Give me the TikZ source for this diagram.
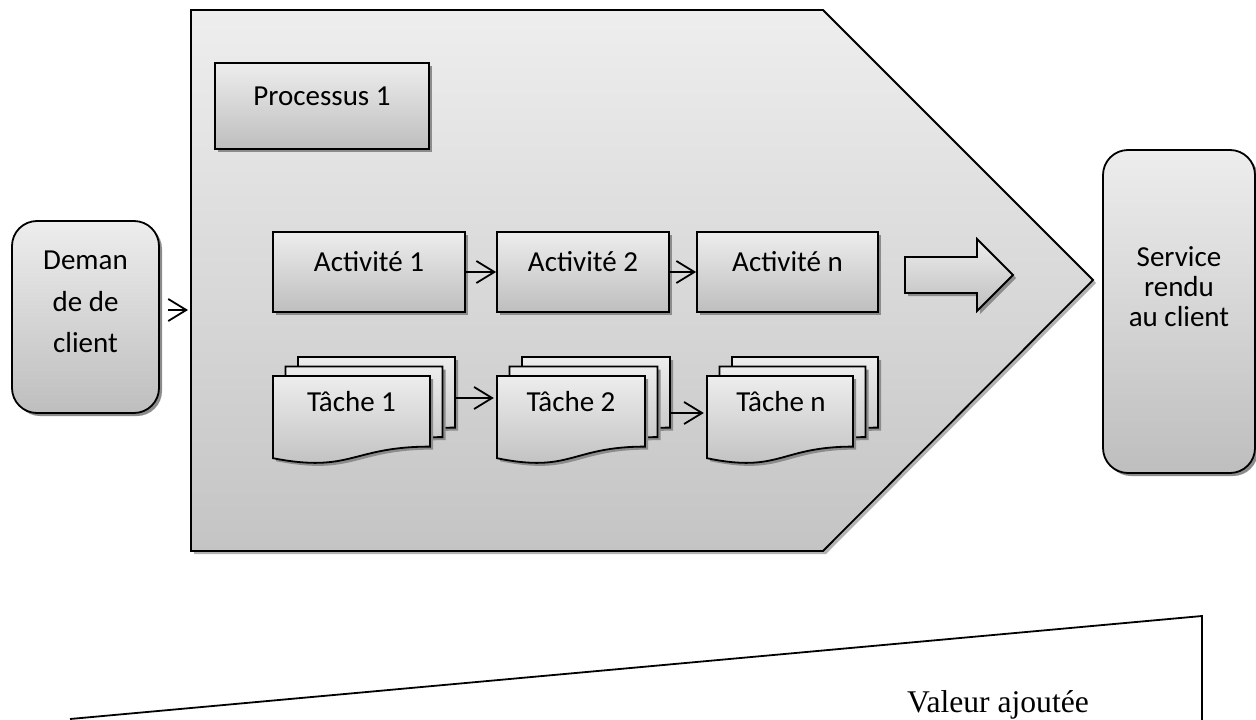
\documentclass[tikz,border=0pt]{standalone}
\usepackage{fontspec}
\setmainfont{Carlito}
\newfontfamily\serifface{Liberation Serif}
\usetikzlibrary{shadows,arrows.meta}

\definecolor{fillTop}{RGB}{237,237,237}
\definecolor{fillBot}{RGB}{190,190,190}
\definecolor{bandTop}{RGB}{238,238,238}
\definecolor{bandBot}{RGB}{196,196,196}

% one page of a document stack: left x, top y, width, style
\newcommand\docpage[4]{%
  \path[#4] (#1,#2) -- ({#1+#3},#2) -- ({#1+#3},{#2+70.6})
    .. controls ({#1+0.5*#3},{#2+70.6}) and ({#1+0.5*#3},{#2+97.4}) .. (#1,{#2+82.2}) -- cycle;}

\begin{document}
\begin{tikzpicture}[x=1pt,y=-1pt,
  outline/.style={draw=black, line width=1.8pt, line join=miter},
  softshadow/.style={drop shadow={shadow xshift=3pt, shadow yshift=-3pt, fill=black!45, opacity=1}},
  boxshape/.style={outline, softshadow, top color=fillTop, bottom color=fillBot, inner sep=0pt},
  roundbox/.style={boxshape, rounded corners=25pt},
  bandshape/.style={outline, drop shadow={shadow xshift=3pt, shadow yshift=-3pt, fill=black!30, opacity=1}, top color=bandTop, bottom color=bandBot},
  docshape/.style={outline, softshadow, top color=fillTop, bottom color=fillBot},
  label/.style={font=\fontsize{29}{35}\selectfont, inner sep=0pt, align=center},
  link/.style={line width=1.8pt, -{Straight Barb[length=18pt, width=22pt, line width=1.8pt]}},
  frame/.style={inner sep=0pt, minimum width=#1, minimum height=82pt}
]
\useasboundingbox (0,0) rectangle (1256,720);

% process band
\path[bandshape] (191,10) -- (823,10) -- (1093,280) -- (823,551) -- (191,551) -- cycle;
\coordinate (procin) at (188,310);

% process title
\node[boxshape, minimum width=214pt, minimum height=86pt] (proc) at (322,106) {};
\node[label] (proctext) at (322,96) {Processus 1};

% activities
\node[boxshape, minimum width=192pt, minimum height=80pt] (act1) at (369,272) {};
\node[boxshape, minimum width=172pt, minimum height=80pt] (act2) at (583,272) {};
\node[boxshape, minimum width=181pt, minimum height=80pt] (actn) at (787.5,272) {};
\node[label] (act1text) at (369,262) {Activité 1};
\node[label] (act2text) at (583,262) {Activité 2};
\node[label] (actntext) at (787.5,262) {Activité n};
\draw[link] (act1.east) -- (act2.west);
\draw[link] (act2.east) -- (actn.west);

% output arrow
\path[boxshape] (905,257) -- (977,257) -- (977,239) -- (1013,275) -- (977,311) -- (977,293) -- (905,293) -- cycle;

% task stacks
\docpage{298}{357}{157}{docshape}
\docpage{285.5}{366.5}{157}{docshape}
\docpage{273}{376}{157}{docshape}
\node[frame=157pt] (t1) at (351.5,417) {};
\node[frame=157pt] (t1b) at (376.5,398) {};
\node[label] (t1text) at (351.5,402) {Tâche 1};

\docpage{522}{357}{148}{docshape}
\docpage{509.5}{366.5}{148}{docshape}
\docpage{497}{376}{148}{docshape}
\node[frame=148pt] (t2) at (571,417) {};
\node[frame=148pt] (t2b) at (596,398) {};
\node[label] (t2text) at (571,402) {Tâche 2};

\docpage{732}{357}{146}{docshape}
\docpage{719.5}{366.5}{146}{docshape}
\docpage{707}{376}{146}{docshape}
\node[frame=146pt] (t3) at (780,417) {};
\node[frame=146pt] (t3b) at (805,398) {};
\node[label] (t3text) at (781,402) {Tâche n};

\draw[link, shorten >=3pt] (t1b.east) -- (t1b.east -| t2.west);
\draw[link, shorten >=3pt] ([yshift=-15pt]t2b.east) -- ([yshift=-15pt]t2b.east -| t3.west);

% customer request and delivered service
\node[roundbox, minimum width=147pt, minimum height=192pt] (demand) at (85.5,317) {};
\node[label, font=\fontsize{29}{41.5}\selectfont] (demandtext) at (85.5,302) {Deman\\de de\\client};
\draw[link, shorten <=8pt] (demand.east |- procin) -- (procin);

\node[roundbox, minimum width=152pt, minimum height=323pt] (service) at (1179,311.5) {};
\node[label, font=\fontsize{29}{30}\selectfont] (servicetext) at (1179,287) {Service\\rendu\\au client};

% value added wedge
\coordinate (wedgeL) at (70,719);
\coordinate (wedgeT) at (1202,616);
\coordinate (wedgeB) at (1202,722);
\draw[line width=1.8pt, line join=miter] (wedgeL) -- (wedgeT) -- (wedgeB);
\node[anchor=base west, inner sep=0pt, font=\serifface\fontsize{31.6}{36}\selectfont] (value) at (907,712) {Valeur ajoutée};
\end{tikzpicture}
\end{document}
